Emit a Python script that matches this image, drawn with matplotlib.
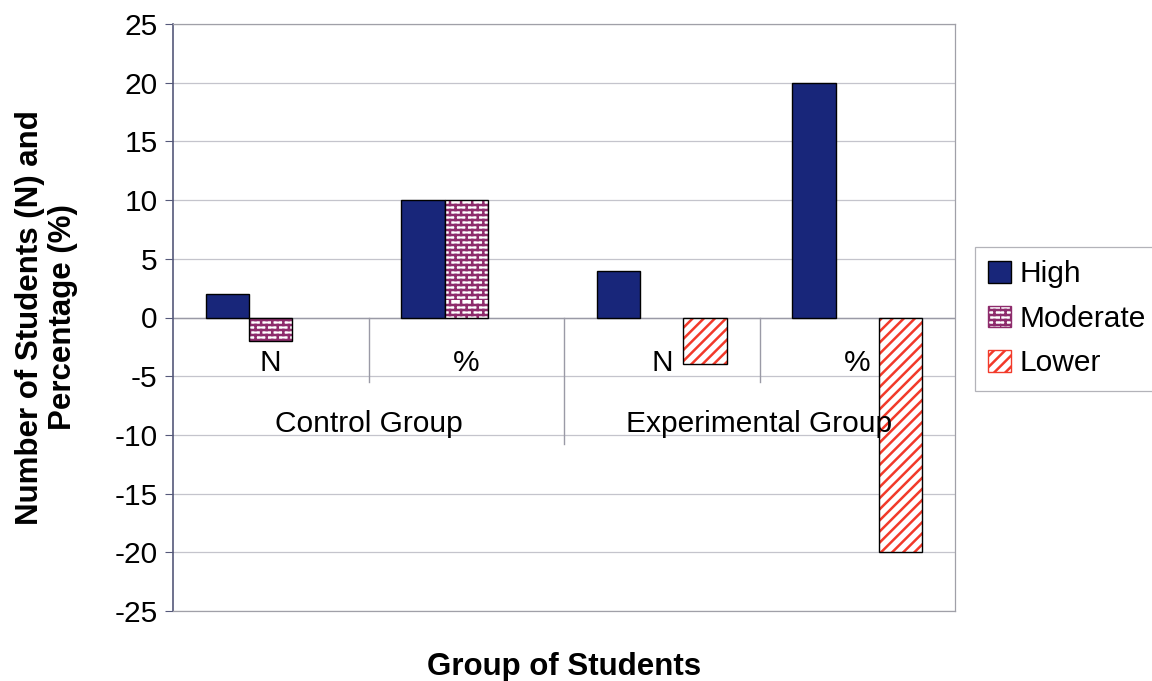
import warnings
import numpy as np
import matplotlib
matplotlib.use("Agg")
import matplotlib.pyplot as plt
import matplotlib.hatch as mhatch
from matplotlib.path import Path
from matplotlib.patches import Patch

warnings.filterwarnings("ignore")

# data
categories = ["N", "%", "N", "%"]
groups = ["Control Group", "Experimental Group"]
series = ["High", "Moderate", "Lower"]
high = [2, 10, 4, 20]
moderate = [-2, 10, 0, 0]
lower = [0, 0, -4, -20]


# brick pattern for the "Moderate" series ('b' in the hatch string)
class BrickHatch(mhatch.HatchPatternBase):
    def __init__(self, hatch, density):
        self.rows = 20 if "b" in hatch else 0
        self.cols = 9
        self.num_vertices = self.rows * (1 + self.cols) * 2

    def set_vertices_and_codes(self, vertices, codes):
        h = 1.0 / self.rows
        w = 1.0 / self.cols
        segs = []
        for r in range(self.rows):
            y0 = r * h
            segs.append(((0, y0), (1, y0)))
            shift = 0.5 * w if r % 2 else 0.0
            for c in range(self.cols):
                x = c * w + shift
                segs.append(((x, y0), (x, y0 + h)))
        vertices[:] = np.array(segs, dtype=float).reshape(-1, 2)
        codes[0::2] = Path.MOVETO
        codes[1::2] = Path.LINETO


mhatch._hatch_types.append(BrickHatch)

plt.rcParams["font.family"] = ["Liberation Sans", "DejaVu Sans"]
plt.rcParams["axes.unicode_minus"] = False
plt.rcParams["hatch.linewidth"] = 1.8

FS = 21.5
FSB = 22.5

fig = plt.figure(figsize=(11.52, 6.81), dpi=100)
ax = fig.add_axes([173 / 1152, 1 - 611 / 681, 782 / 1152, 587 / 681])

navy = "#18267a"
plum = "#8e2c6c"
red = "#f23a2a"

x = np.arange(len(categories))
w = 1 / 4.5

ax.bar(x - w, high, w, color=navy, edgecolor="black", linewidth=1, zorder=3)

specs = [(moderate, 0, plum, "b"), (lower, w, red, "///")]
for vals, off, col, hatch in specs:
    fills = ax.bar(x + off, vals, w, color="white", edgecolor=col, linewidth=0,
                   hatch=hatch, zorder=3)
    edges = ax.bar(x + off, vals, w, fill=False, edgecolor="black",
                   linewidth=1, zorder=4)
    # empty slots keep their place in the group but draw nothing
    for v, f, e in zip(vals, fills, edges):
        if v == 0:
            f.set_visible(False)
            e.set_visible(False)

ax.set_xlim(-0.5, 3.5)
ax.set_ylim(-25, 25)
ax.set_yticks(np.arange(-25, 26, 5))
ax.set_xticks([])
ax.grid(axis="y", color="#c4c4cc", linewidth=0.9, zorder=0)
ax.set_axisbelow(True)
ax.tick_params(axis="y", labelsize=FS, length=6, color="#55597a", pad=5)

for side in ["top", "right", "bottom"]:
    ax.spines[side].set_color("#a0a0a8")
    ax.spines[side].set_linewidth(0.9)
ax.spines["left"].set_color("#55597a")
ax.spines["left"].set_linewidth(1.2)

# category axis along zero with separators
ax.axhline(0, color="#9a9aa6", linewidth=1, zorder=2)
for xs, ybot in [(0.5, -5.5), (1.5, -10.8), (2.5, -5.5)]:
    ax.plot([xs, xs], [0, ybot], color="#9a9aa6", linewidth=1, zorder=2)
for xi, lab in zip(x, categories):
    ax.text(xi, -3.9, lab, ha="center", va="center", fontsize=FS, zorder=5)
for gi, g in enumerate(groups):
    ax.text(0.5 + 2 * gi, -9.1, g, ha="center", va="center", fontsize=FS,
            zorder=5)

ax.set_ylabel("Number of Students (N) and\nPercentage (%)", fontsize=FSB,
              fontweight="bold", linespacing=1.1)
ax.yaxis.set_label_coords(-0.122, 0.5)
ax.set_xlabel("Group of Students", fontsize=FSB, fontweight="bold")
ax.xaxis.set_label_coords(0.5, -0.07)

handles = [
    Patch(facecolor=navy, edgecolor="black", linewidth=1),
    Patch(facecolor="white", edgecolor=plum, hatch="b", linewidth=1),
    Patch(facecolor="white", edgecolor=red, hatch="///", linewidth=1),
]
leg = fig.legend(handles, series, loc="upper left",
                 bbox_to_anchor=(975 / 1152, 1 - 247 / 681), fontsize=FS,
                 frameon=True, fancybox=False, edgecolor="#a0a0a8",
                 handlelength=0.75, handleheight=0.75, handletextpad=0.3,
                 labelspacing=0.55, borderpad=0.45, borderaxespad=0)
leg.get_frame().set_linewidth(0.9)

fig.savefig("out.png", dpi=100)
